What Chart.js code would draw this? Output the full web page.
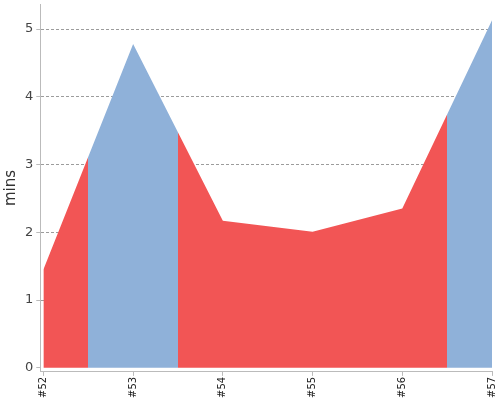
<!DOCTYPE html>
<html>
<head>
<meta charset="utf-8">
<script src="https://cdn.jsdelivr.net/npm/chart.js@4/dist/chart.umd.min.js"></script>
<style>
  html, body { margin: 0; padding: 0; background: #fff; }
  #wrap { width: 500px; height: 400px; }
</style>
</head>
<body>
<div id="wrap"><canvas id="build-chart"></canvas></div>
<script>
// Build time trend

const builds = ['#52', '#53', '#54', '#55', '#56', '#57'];
const durations = [1.45, 4.78, 2.17, 2.01, 2.35, 5.13];
const passed = [false, true, false, false, false, true];
const yTicks = [0, 1, 2, 3, 4, 5];

const RED = '#f25555';
const BLUE = '#8fb1d9';

// Horizontal gradient with hard stops half way between builds
function statusFill(context) {
    const chart = context.chart;
    const area = chart.chartArea;
    const x = chart.scales.x;
    if (!area || !x) return RED;

    const width = area.right - area.left;
    const grad = chart.ctx.createLinearGradient(area.left, 0, area.right, 0);
    const colorOf = i => (passed[i] ? BLUE : RED);

    grad.addColorStop(0, colorOf(0));
    for (let i = 0; i < builds.length - 1; i++) {
        const mid = x.getPixelForValue(i + 0.5);
        const t = Math.min(1, Math.max(0, (mid - area.left) / width));
        grad.addColorStop(t, colorOf(i));
        grad.addColorStop(t, colorOf(i + 1));
    }
    grad.addColorStop(1, colorOf(builds.length - 1));
    return grad;
}

new Chart(document.getElementById('build-chart'), {
    type: 'line',
    data: {
        datasets: [{
            data: durations.map((v, i) => ({ x: i, y: v })),
            fill: 'origin',
            backgroundColor: statusFill,
            borderWidth: 0,
            pointRadius: 0,
            tension: 0
        }]
    },
    options: {
        responsive: true,
        maintainAspectRatio: false,
        animation: false,
        layout: { padding: { top: 4, right: 8, left: 2, bottom: 1 } },
        plugins: {
            legend: { display: false },
            tooltip: { enabled: false }
        },
        scales: {
            x: {
                type: 'linear',
                min: -0.035,
                max: builds.length - 1,
                grid: { display: true, drawOnChartArea: false, tickLength: 4, tickColor: '#bbb' },
                border: { color: '#bbb', width: 1 },
                afterBuildTicks: axis => {
                    axis.ticks = builds.map((b, i) => ({ value: i }));
                },
                afterFit: axis => {
                    axis.paddingRight = 0;
                },
                ticks: {
                    minRotation: 90,
                    maxRotation: 90,
                    color: '#222',
                    padding: 1,
                    callback: value => builds[value],
                    font: { family: 'DejaVu Sans', size: 10 }
                }
            },
            y: {
                min: -0.06,
                max: 5.37,
                z: 1,
                grid: {
                    color: ctx => (ctx.tick && ctx.tick.value === 0 ? 'rgba(0,0,0,0)' : 'rgba(90,90,90,0.6)'),
                    tickColor: '#bbb',
                    tickLength: 4
                },
                border: { color: '#bbb', width: 1, dash: [3, 2] },
                afterBuildTicks: axis => {
                    axis.ticks = yTicks.map(v => ({ value: v }));
                },
                afterFit: axis => {
                    axis.paddingTop = 0;
                },
                ticks: {
                    color: '#444',
                    padding: 3,
                    font: { family: 'DejaVu Sans', size: 13 }
                },
                title: {
                    display: true,
                    text: 'mins',
                    color: '#333',
                    padding: { top: 0, bottom: 2 },
                    font: { family: 'DejaVu Sans', size: 15 }
                }
            }
        }
    }
});
</script>
</body>
</html>
